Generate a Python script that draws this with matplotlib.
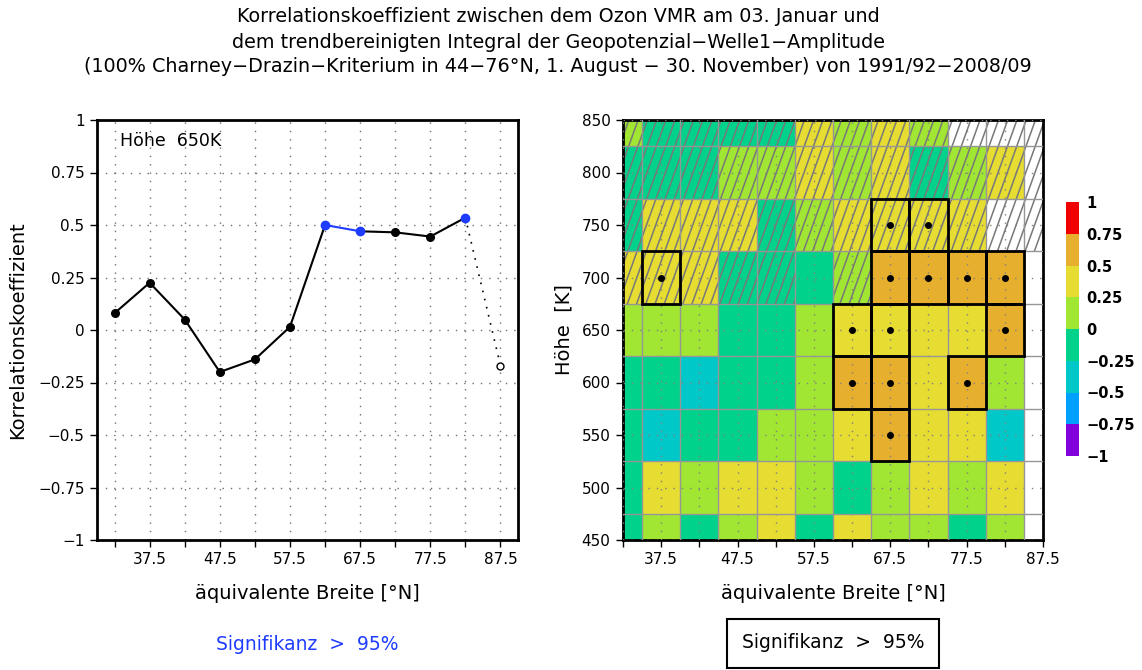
import numpy as np
import matplotlib
matplotlib.use("Agg")
import matplotlib.pyplot as plt
from matplotlib.colors import ListedColormap, BoundaryNorm
from matplotlib.path import Path
from matplotlib.patches import PathPatch, Rectangle

# --- Daten ---
breite = [32.5, 37.5, 42.5, 47.5, 52.5, 57.5, 62.5, 67.5, 72.5, 77.5, 82.5, 87.5]
hoehe = [450, 500, 550, 600, 650, 700, 750, 800, 850]

# Korrelation auf 650K (linkes Bild)
korr_650 = [0.08, 0.225, 0.05, -0.2, -0.14, 0.015, 0.5, 0.47, 0.465, 0.445, 0.535, -0.17]
sig_650 = [0, 0, 0, 0, 0, 0, 1, 1, 0, 0, 1, 0]
gueltig_650 = [1, 1, 1, 1, 1, 1, 1, 1, 1, 1, 1, 0]

# Korrelationsfeld (Zeilen von 850K oben nach 450K unten)
nan = np.nan
korr_feld = [
    [0.12, -0.08, -0.10, -0.05, -0.12, 0.31, 0.20, 0.30, 0.15, nan, nan, nan],   # 850
    [-0.05, -0.15, -0.10, 0.10, 0.18, 0.35, 0.22, 0.30, -0.10, 0.20, 0.27, nan],  # 800
    [-0.08, 0.30, 0.35, 0.28, -0.05, 0.20, 0.40, 0.45, 0.48, 0.33, nan, nan],     # 750
    [0.30, 0.45, 0.30, -0.05, -0.10, -0.02, 0.15, 0.55, 0.58, 0.56, 0.60, nan],   # 700
    [0.08, 0.225, 0.05, -0.20, -0.14, 0.015, 0.495, 0.47, 0.465, 0.445, 0.535, nan],  # 650
    [-0.10, -0.20, -0.30, -0.15, -0.10, 0.20, 0.55, 0.56, 0.45, 0.52, 0.15, nan],  # 600
    [-0.12, -0.30, -0.15, -0.10, 0.05, 0.15, 0.40, 0.52, 0.42, 0.35, -0.30, nan],  # 550
    [-0.05, 0.30, 0.15, 0.30, 0.28, 0.12, -0.05, 0.18, 0.30, 0.20, 0.30, nan],    # 500
    [-0.10, 0.10, -0.10, 0.12, 0.30, -0.08, 0.28, 0.20, 0.15, -0.10, 0.15, nan],  # 450
]
sig_feld = [
    [0, 0, 0, 0, 0, 0, 0, 0, 0, 0, 0, 0],
    [0, 0, 0, 0, 0, 0, 0, 0, 0, 0, 0, 0],
    [0, 0, 0, 0, 0, 0, 0, 1, 1, 0, 0, 0],
    [0, 1, 0, 0, 0, 0, 0, 1, 1, 1, 1, 0],
    [0, 0, 0, 0, 0, 0, 1, 1, 0, 0, 1, 0],
    [0, 0, 0, 0, 0, 0, 1, 1, 0, 1, 0, 0],
    [0, 0, 0, 0, 0, 0, 0, 1, 0, 0, 0, 0],
    [0, 0, 0, 0, 0, 0, 0, 0, 0, 0, 0, 0],
    [0, 0, 0, 0, 0, 0, 0, 0, 0, 0, 0, 0],
]
schraffur = [
    [1, 1, 1, 1, 1, 1, 1, 1, 1, 1, 1, 1],
    [1, 1, 1, 1, 1, 1, 1, 1, 1, 1, 1, 1],
    [1, 1, 1, 1, 1, 1, 1, 1, 1, 1, 1, 1],
    [1, 1, 1, 1, 1, 0, 1, 0, 0, 0, 0, 0],
    [0, 0, 0, 0, 0, 0, 0, 0, 0, 0, 0, 0],
    [0, 0, 0, 0, 0, 0, 0, 0, 0, 0, 0, 0],
    [0, 0, 0, 0, 0, 0, 0, 0, 0, 0, 0, 0],
    [0, 0, 0, 0, 0, 0, 0, 0, 0, 0, 0, 0],
    [0, 0, 0, 0, 0, 0, 0, 0, 0, 0, 0, 0],
]

stufen = [-1, -0.75, -0.5, -0.25, 0, 0.25, 0.5, 0.75, 1]
stufen_text = ["\u22121", "\u22120.75", "\u22120.5", "\u22120.25", "0", "0.25", "0.5", "0.75", "1"]
farben = ["#8200dc", "#00a0ff", "#00c8c8", "#00d28c", "#a0e632", "#e6dc32", "#e6af2d", "#f00000"]

y_ticks_links = [-1, -0.75, -0.5, -0.25, 0, 0.25, 0.5, 0.75, 1]
y_text_links = ["\u22121", "\u22120.75", "\u22120.5", "\u22120.25", "0", "0.25", "0.5", "0.75", "1"]
x_text = ["", "37.5", "", "47.5", "", "57.5", "", "67.5", "", "77.5", "", "87.5"]

titel = ["Korrelationskoeffizient zwischen dem Ozon VMR am 03. Januar und",
         "dem trendbereinigten Integral der Geopotenzial\u2212Welle1\u2212Amplitude",
         "(100% Charney\u2212Drazin\u2212Kriterium in 44\u221276\u00b0N, 1. August \u2212 30. November) von 1991/92\u22122008/09"]

blau = "#1e3cff"
grau = "#969696"
plt.rcParams['font.family'] = ['DejaVu Sans']
W, H = 1142, 670

fig = plt.figure(figsize=(W / 100, H / 100), dpi=100)
for i, t in enumerate(titel):
    fig.text(558 / W, 1 - (17 + 25 * i) / H, t, ha='center', va='center', fontsize=13.8)

# ---------- linkes Bild ----------
ax1 = fig.add_axes([97 / W, 130 / H, 421 / W, 420 / H])
x = np.array(breite)
y = np.array(korr_650)
for i in range(len(x) - 1):
    if not (gueltig_650[i] and gueltig_650[i + 1]):
        ax1.plot(x[i:i + 2], y[i:i + 2], color='black', lw=1.2, ls=(0, (1, 4)), zorder=3)
    elif sig_650[i] and sig_650[i + 1]:
        ax1.plot(x[i:i + 2], y[i:i + 2], color=blau, lw=1.5, zorder=3)
    else:
        ax1.plot(x[i:i + 2], y[i:i + 2], color='black', lw=1.5, zorder=3)
for i in range(len(x)):
    if not gueltig_650[i]:
        ax1.plot(x[i], y[i], 'o', mfc='white', mec='black', ms=5, mew=1, zorder=4)
    elif sig_650[i]:
        ax1.plot(x[i], y[i], 'o', color=blau, ms=6, zorder=4)
    else:
        ax1.plot(x[i], y[i], 'o', color='black', ms=5.5, zorder=4)

ax1.set_xlim(30, 90)
ax1.set_ylim(-1, 1)
ax1.set_xticks(breite)
ax1.set_xticklabels(x_text)
ax1.set_yticks(y_ticks_links)
ax1.set_yticklabels(y_text_links)
ax1.grid(True, ls=(0, (1, 5)), color='#707070', lw=1)
ax1.text(0.055, 0.95, "H\u00f6he  650K", transform=ax1.transAxes, fontsize=12.5, va='center')
ax1.set_xlabel("\u00e4quivalente Breite [\u00b0N]", fontsize=14, labelpad=12)
ax1.set_ylabel("Korrelationskoeffizient", fontsize=14, labelpad=8)
fig.text(307 / W, 1 - 645 / H, "Signifikanz  >  95%", color=blau, ha='center', va='center', fontsize=13.5)

# ---------- rechtes Bild ----------
ax2 = fig.add_axes([623 / W, 130 / H, 420 / W, 420 / H])
feld = np.array(korr_feld)[::-1]
sig = np.array(sig_feld)[::-1]
schr = np.array(schraffur)[::-1]
xk = np.concatenate([[breite[0] - 2.5], np.array(breite) + 2.5])
yk = np.concatenate([[hoehe[0] - 25], np.array(hoehe) + 25])
cmap = ListedColormap(farben)
norm = BoundaryNorm(stufen, cmap.N)
mesh = ax2.pcolormesh(xk, yk, np.ma.masked_invalid(feld), cmap=cmap, norm=norm, zorder=1)

# Schraffur (steile Linien, auf markierte Zellen beschraenkt)
pfade = []
for r in range(len(hoehe)):
    for c in range(len(breite)):
        if schr[r, c]:
            x0, x1, y0, y1 = xk[c], xk[c + 1], yk[r], yk[r + 1]
            pfade.append(Path([(x0, y0), (x1, y0), (x1, y1), (x0, y1), (x0, y0)], closed=True))
clip = PathPatch(Path.make_compound_path(*pfade), transform=ax2.transData, fc='none', ec='none')
ax2.add_patch(clip)
for s in np.arange(-0.5, 1.02, 0.022):
    ln, = ax2.plot([s, s + 0.36], [0, 1], transform=ax2.transAxes, color='#787878', lw=1.1, zorder=2)
    ln.set_clip_path(clip)

for xe in xk[1:-1]:
    ax2.axvline(xe, color=grau, lw=1, zorder=3)
for ye in yk[1:-1]:
    ax2.axhline(ye, color=grau, lw=1, zorder=3)

for r in range(len(hoehe)):
    for c in range(len(breite)):
        if sig[r, c]:
            ax2.add_patch(Rectangle((xk[c], yk[r]), xk[c + 1] - xk[c], yk[r + 1] - yk[r],
                                    fc='none', ec='black', lw=2, zorder=5))
            ax2.plot(breite[c], hoehe[r], 'o', color='black', ms=4, zorder=6)

ax2.set_xlim(breite[0], breite[-1])
ax2.set_ylim(hoehe[0], hoehe[-1])
ax2.set_xticks(breite)
ax2.set_xticklabels(x_text)
ax2.set_yticks(hoehe)
ax2.grid(True, ls=(0, (1, 5)), color='#808080', lw=1, zorder=4)
ax2.set_axisbelow(False)
ax2.set_xlabel("\u00e4quivalente Breite [\u00b0N]", fontsize=14, labelpad=12)
ax2.set_ylabel("H\u00f6he  [K]", fontsize=14, labelpad=6)
fig.text(833 / W, 1 - 643 / H, "Signifikanz  >  95%", ha='center', va='center', fontsize=13.5,
         bbox=dict(boxstyle='square,pad=0.8', fc='white', ec='black', lw=1.5))

for ax in (ax1, ax2):
    for sp in ax.spines.values():
        sp.set_linewidth(2)
    ax.tick_params(direction='out', length=5, width=1, labelsize=11, pad=4)

# ---------- Farbskala ----------
cax = fig.add_axes([1066 / W, 214 / H, 13 / W, 254 / H])
cb = fig.colorbar(mesh, cax=cax, ticks=stufen)
cb.outline.set_visible(False)
cb.ax.set_yticklabels(stufen_text, fontsize=10.5, fontweight='bold')
cb.ax.tick_params(length=0, pad=5)

fig.savefig("out.png", dpi=100)
